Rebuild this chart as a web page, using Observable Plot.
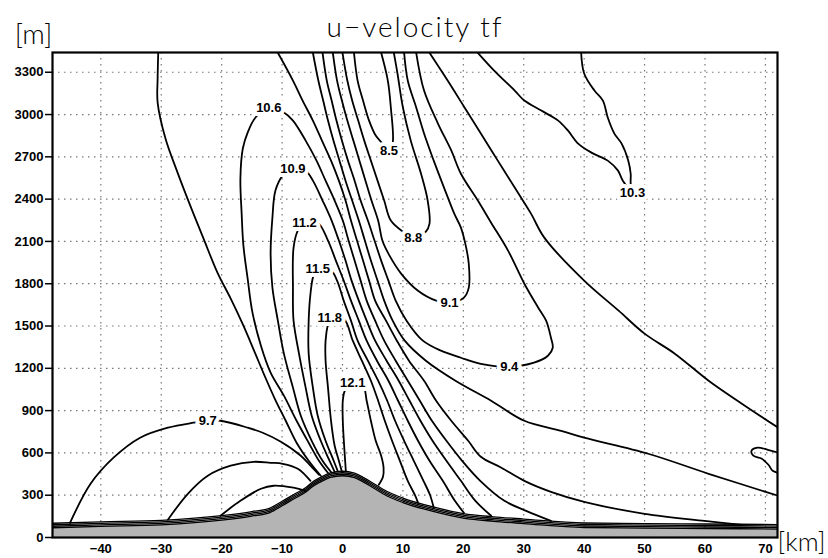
<!DOCTYPE html>
<html>
<head>
<meta charset="utf-8">
<script src="https://cdn.jsdelivr.net/npm/d3@7"></script>
<script src="https://cdn.jsdelivr.net/npm/@observablehq/plot@0.6"></script>
<style>
  body { margin: 0; background: #fff; }
  #chart svg { display: block; }
</style>
</head>
<body>
<div id="chart"></div>
<script>
// Axis ticks
const xTicks = [-40, -30, -20, -10, 0, 10, 20, 30, 40, 50, 60, 70];
const yTicks = [0, 300, 600, 900, 1200, 1500, 1800, 2100, 2400, 2700, 3000, 3300];

// Terrain profile: distance [km] and surface height [m]
const terrainKm = [-48, -40, -30, -20, -15, -12, -10, -8, -6, -5, -3.6, -2, 0, 2, 3.4, 5, 7.3, 10, 15, 20, 25, 30, 40, 50, 60, 72];
const terrainM  = [69, 79, 90, 123, 152, 177, 225, 275, 324, 360, 395, 427, 438, 424, 395, 355, 296, 248, 185, 138, 115, 99, 71, 67, 64, 60];

// Contour polylines of u-velocity [m/s], points are [km, m]
const c121 = [[0.55,473],[0.38,580],[0.22,686],[0.05,828],[0.05,970],[0.38,1041],[1.7,1098],[3.4,1077],[4.0,970],[4.7,828],[5.5,686],[6.4,580],[6.8,495],[6.7,431],[6.0,374]];
const c118 = [[-0.1,466],[-0.6,544],[-1.3,651],[-1.9,828],[-2.4,1063],[-2.8,1254],[-2.8,1396],[-2.4,1517],[-2.1,1561],[0.2,1552],[1.7,1396],[3.2,1254],[4.7,1112],[5.9,970],[7.0,828],[8.2,686],[9.5,544],[10.8,402],[12.0,300],[12.5,246]];
const c115 = [[-0.8,473],[-1.6,559],[-2.8,686],[-4.1,864],[-4.9,1063],[-5.6,1304],[-5.6,1538],[-5.3,1729],[-4.8,1857],[-4.1,1905],[-1.9,1893],[-0.9,1822],[0.2,1680],[1.4,1538],[2.5,1396],[4.2,1254],[5.9,1112],[7.4,970],[8.7,828],[10.2,686],[11.8,544],[13.4,402],[14.5,300],[15.1,211]];
const c112 = [[-1.3,466],[-2.3,559],[-3.6,686],[-5.1,864],[-6.1,1063],[-7.2,1304],[-8.1,1538],[-8.2,1772],[-8.1,2056],[-7.4,2177],[-6.3,2233],[-4.1,2233],[-2.4,2106],[-1.1,1964],[0.2,1822],[1.4,1680],[2.7,1538],[4.0,1396],[5.7,1254],[7.6,1112],[9.2,970],[10.8,828],[12.5,686],[14.4,544],[16.6,402],[18.6,260],[20.1,175]];
const c109 = [[-1.8,459],[-3.3,544],[-5.1,686],[-6.9,864],[-8.2,1063],[-9.7,1304],[-10.7,1538],[-11.6,1772],[-11.9,2013],[-11.6,2269],[-11.1,2461],[-9.9,2567],[-8.2,2617],[-6.1,2602],[-4.9,2531],[-3.3,2390],[-1.8,2248],[-0.6,2106],[0.5,1964],[1.5,1822],[2.7,1680],[4.0,1538],[5.4,1396],[7.3,1254],[9.3,1112],[11.1,970],[12.9,828],[14.9,686],[17.2,544],[19.6,402],[22.0,260],[24.6,154]];
const c106 = [[-2.3,452],[-3.9,544],[-5.6,672],[-7.6,828],[-9.7,1006],[-11.9,1169],[-13.5,1360],[-14.9,1595],[-15.7,1836],[-16.4,2070],[-16.7,2304],[-16.9,2546],[-16.5,2759],[-15.7,2872],[-14.4,2979],[-12.2,3050],[-9.7,3014],[-8.2,2957],[-6.1,2815],[-4.3,2673],[-2.8,2531],[-1.3,2390],[0.05,2248],[1.0,2106],[2.0,1964],[3.0,1822],[4.0,1680],[5.4,1538],[6.9,1396],[8.8,1254],[10.8,1112],[12.8,970],[14.8,828],[17.2,686],[19.8,544],[22.8,402],[26.8,260],[30.4,189],[34.5,118]];
const c103a = [[-30.5,3438],[-30.6,3255],[-30.6,3085],[-29.3,2830],[-27.3,2588],[-25.2,2354],[-23.0,2120],[-20.7,1879],[-18.5,1694],[-16.4,1502],[-14.5,1311],[-12.9,1148],[-11.2,984],[-9.4,828],[-7.6,672],[-5.6,544],[-3.6,438]];
const c103b = [[-10.7,3438],[-8.2,3241],[-6.6,3099],[-4.9,2957],[-3.4,2815],[-1.9,2673],[-0.6,2531],[0.5,2390],[1.4,2248],[2.4,2106],[3.4,1964],[4.4,1822],[5.4,1680],[7.2,1538],[9.0,1396],[11.0,1254],[13.5,1112],[15.5,970],[18.0,828],[20.8,686],[22.9,573],[26.3,495],[30.1,402],[34.5,324],[40.0,253],[50.0,168],[59.9,118],[66.1,90]];
const c103c = [[22.4,3438],[25.1,3312],[28.5,3170],[30.1,3099],[32.9,3028],[35.7,2957],[37.3,2887],[39.0,2794],[41.2,2730],[43.9,2673],[45.6,2602],[46.4,2531],[48.0,2448],[47.7,2510],[47.7,2580],[47.3,2673],[46.2,2794],[45.0,2865],[43.9,2979],[43.1,3099],[41.7,3170],[40.0,3291],[39.5,3438]];
const c097a = [[-4.9,3438],[-4.0,3241],[-3.2,3099],[-2.4,2957],[-1.5,2815],[-0.5,2673],[0.5,2531],[1.6,2390],[2.7,2248],[3.7,2106],[4.7,1964],[5.8,1822],[6.9,1680],[8.3,1538],[10.3,1396],[13.8,1254],[18.7,1112],[24.6,970],[30.1,828],[36.2,757],[40.0,708],[50.6,594],[60.6,452],[72.1,296]];
const c097b = [[14.4,3438],[17.4,3241],[20.2,3050],[22.9,2865],[25.7,2673],[28.5,2482],[31.2,2297],[33.4,2127],[40.0,1822],[45.7,1609],[50.0,1446],[55.0,1304],[60.6,1112],[66.1,949],[72.1,779]];
const c097c = [[-45.1,104],[-41.7,381],[-37.9,566],[-33.5,708],[-28.9,779],[-24.7,814],[-22.3,828],[-20.2,828],[-15.7,779],[-13.2,743],[-10.2,679],[-6.9,580],[-5.3,509],[-3.9,445]];
const c094a = [[-3.3,3438],[-2.6,3241],[-1.8,3099],[-1.0,2957],[-0.1,2815],[0.9,2673],[2.0,2531],[3.0,2390],[4.2,2248],[5.3,2106],[6.4,1964],[7.6,1822],[8.8,1680],[10.6,1538],[13.3,1396],[16.3,1325],[19.6,1275],[22.9,1232],[27.6,1211],[31.7,1240],[34.0,1289],[34.8,1346],[34.5,1417],[33.7,1538],[32.4,1630],[30.1,1800],[27.4,2035],[24.6,2233],[22.4,2390],[19.6,2580],[18.0,2745],[15.8,2936],[13.5,3170],[12.2,3438]];
const c094b = [[72.1,601],[70.4,622],[68.7,637],[67.7,615],[68.0,580],[69.4,559],[70.5,516],[71.2,473],[72.1,459]];
const c094c = [[-28.9,126],[-25.6,310],[-22.3,438],[-18.5,509],[-14.7,537],[-11.9,530],[-9.9,523],[-7.4,488],[-5.3,402]];
const c091a = [[-1.6,3438],[-0.9,3241],[-0.1,3099],[0.8,2957],[1.8,2815],[2.8,2673],[3.8,2531],[4.8,2390],[5.9,2248],[6.6,2106],[7.6,2013],[9.7,1872],[12.5,1750],[15.5,1680],[17.7,1666],[20.1,1701],[20.9,1772],[20.9,1942],[20.4,2070],[19.6,2198],[18.5,2297],[16.8,2482],[15.1,2673],[13.5,2865],[12.2,3050],[10.8,3241],[10.2,3438]];
const c091b = [[-20.2,154],[-16.9,260],[-13.5,346],[-11.4,367],[-8.1,353],[-6.1,331]];
const c088 = [[0.0,3438],[0.8,3241],[1.6,3099],[2.6,2957],[3.6,2815],[4.7,2673],[5.8,2531],[6.9,2390],[8.0,2248],[10.2,2163],[11.7,2127],[13.8,2170],[14.4,2226],[14.1,2390],[13.0,2580],[11.3,2815],[10.0,3050],[9.1,3291],[8.5,3438]];
const c085 = [[1.9,3438],[2.5,3241],[3.4,3099],[4.4,2957],[5.5,2851],[6.5,2801],[7.7,2745],[8.3,2794],[8.0,3050],[7.5,3241],[6.4,3438]];

const contours = [
  {level: 12.1, points: c121}, {level: 11.8, points: c118}, {level: 11.5, points: c115},
  {level: 11.2, points: c112}, {level: 10.9, points: c109}, {level: 10.6, points: c106},
  {level: 10.3, points: c103a}, {level: 10.3, points: c103b}, {level: 10.3, points: c103c},
  {level: 9.7, points: c097a}, {level: 9.7, points: c097b}, {level: 9.7, points: c097c},
  {level: 9.4, points: c094a}, {level: 9.4, points: c094b}, {level: 9.4, points: c094c},
  {level: 9.1, points: c091a}, {level: 9.1, points: c091b},
  {level: 8.8, points: c088}, {level: 8.5, points: c085}
];

// Contour labels: level and placement [km, m]
const labelLevels = [8.5, 8.8, 9.1, 9.4, 9.7, 10.3, 10.6, 10.9, 11.2, 11.5, 11.8, 12.1];
const labelX = [7.7, 11.7, 17.7, 27.6, -22.3, 48.0, -12.2, -8.2, -6.3, -4.1, -2.1, 1.7];
const labelY = [2745, 2127, 1666, 1211, 828, 2448, 3050, 2617, 2233, 1905, 1561, 1098];

const terrain = terrainKm.map((x, i) => ({x, y: terrainM[i]}));
const lineRows = contours.flatMap((c, id) => c.points.map(([x, y]) => ({id, level: c.level, x, y})));
const labels = labelLevels.map((level, i) => ({level, x: labelX[i], y: labelY[i]}));

const font = "'Liberation Sans', Arial, Helvetica, sans-serif";
const thin = "Lato, 'Open Sans', 'Liberation Sans', sans-serif";
const gridStyle = {stroke: "#777", strokeOpacity: 1, strokeWidth: 1.2, strokeDasharray: "1.5,4.5"};

const chart = Plot.plot({
  width: 828,
  height: 558,
  marginLeft: 52,
  marginRight: 51,
  marginTop: 52,
  marginBottom: 21,
  style: {background: "white", fontFamily: font},
  x: {domain: [-48, 72]},
  y: {domain: [0, 3440]},
  marks: [
    Plot.gridX(xTicks, gridStyle),
    Plot.gridY(yTicks, gridStyle),
    Plot.areaY(terrain, {x: "x", y: "y", curve: "monotone-x", fill: "#b4b4b4"}),
    Plot.line(lineRows, {x: "x", y: "y", z: "id", curve: "catmull-rom", stroke: "black", strokeWidth: 1.8, clip: true}),
    ...[0, -1.5, -3, -4.5].map(dy =>
      Plot.line(terrain, {x: "x", y: "y", dy, curve: "monotone-x", stroke: "black", strokeWidth: 1.3})
    ),
    Plot.text(labels, {
      x: "x", y: "y", text: d => d.level.toFixed(1),
      fontSize: 13, fontWeight: "bold", fill: "black",
      stroke: "white", strokeWidth: 8, strokeLinejoin: "round", paintOrder: "stroke"
    }),
    Plot.frame({stroke: "black", strokeWidth: 2.2}),
    Plot.axisY(yTicks, {tickSize: 7, tickPadding: 2, fontSize: 13, fontWeight: "bold", label: null, strokeWidth: 1.5, tickFormat: d => String(d)}),
    Plot.axisX(xTicks, {tickSize: 0, tickPadding: 6, fontSize: 13, fontWeight: "bold", label: null, tickFormat: d => (d < 0 ? "\u2212" + Math.abs(d) : String(d))}),
    Plot.text(["u\u2212velocity tf"], {text: d => d, frameAnchor: "top", dy: -24, lineAnchor: "middle", fontSize: 28, fontFamily: thin, fontWeight: 300}),
    Plot.text(["[m]"], {text: d => d, frameAnchor: "top-left", dx: -19, dy: -17, textAnchor: "middle", lineAnchor: "middle", fontSize: 28, fontFamily: thin, fontWeight: 300}),
    Plot.text(["[km]"], {text: d => d, frameAnchor: "bottom-right", dx: 24, dy: 5, textAnchor: "middle", lineAnchor: "middle", fontSize: 26, fontFamily: thin, fontWeight: 300})
  ]
});

document.getElementById("chart").appendChild(chart);
// wider tracking for the title
d3.select(chart).selectAll("text").filter(function() { return this.textContent === "u\u2212velocity tf"; })
  .attr("letter-spacing", "2px");
</script>
</body>
</html>
